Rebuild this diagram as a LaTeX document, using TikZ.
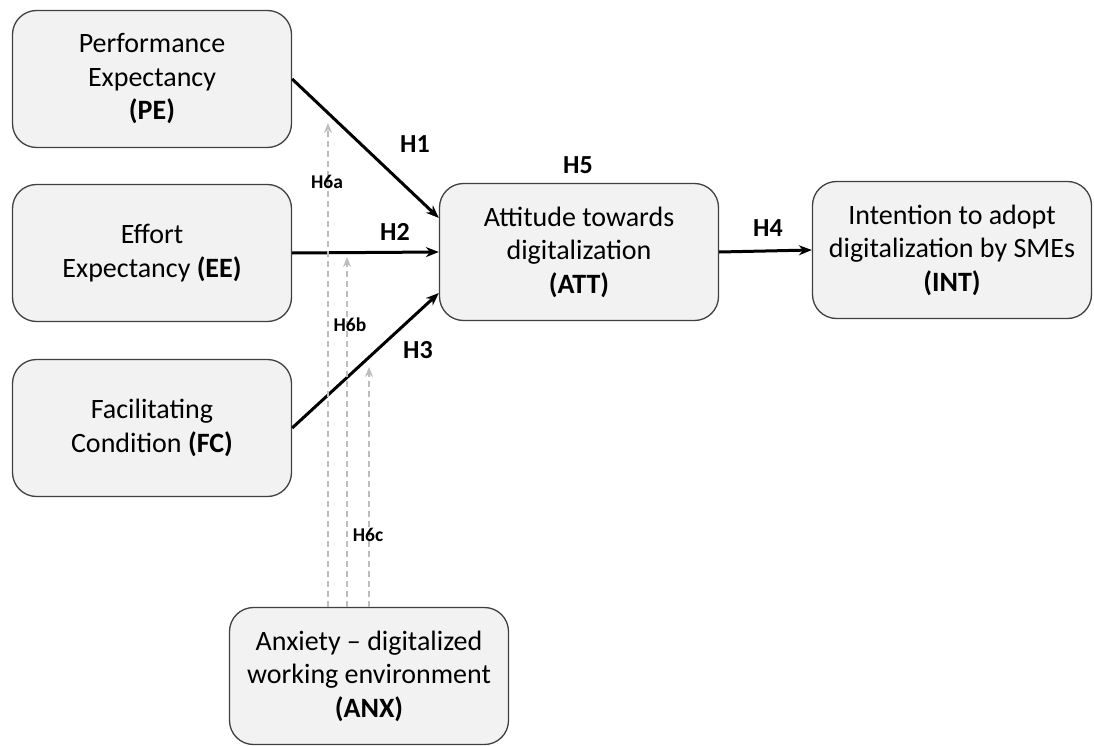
\documentclass[tikz,border=0pt]{standalone}
\usepackage{fontspec}
\setmainfont{Carlito}
\usetikzlibrary{arrows.meta}
\definecolor{boxfill}{HTML}{F2F2F2}
\definecolor{boxline}{HTML}{404040}
\definecolor{modgray}{HTML}{BDBDBD}

\begin{document}
\begin{tikzpicture}[x=1pt,y=-1pt,
    construct/.style={draw=boxline,fill=boxfill,line width=1.3pt,rounded corners=24pt,
      minimum width=279pt,minimum height=137pt,inner sep=0pt,align=center,
      font=\fontsize{28}{33.5}\selectfont},
    hyp/.style={line width=3pt,-{Stealth[length=13pt,width=10pt]}},
    modarrow/.style={draw=modgray,line width=1.7pt,dash pattern=on 6pt off 4pt,
      -{Stealth[length=10pt,width=8pt,fill=modgray]}},
    hlabel/.style={font=\bfseries\fontsize{26}{26}\selectfont},
    mlabel/.style={font=\bfseries\fontsize{19.5}{19.5}\selectfont}]
  \useasboundingbox (0,0) rectangle (1094,746);
  % constructs
  \node[construct](PE) at (152,79){Performance\\Expectancy\\\textbf{(PE)}};
  \node[construct](EE) at (152,253){Effort\\Expectancy \textbf{(EE)}};
  \node[construct](FC) at (152,428){Facilitating\\Condition \textbf{(FC)}};
  \node[construct](ATT) at (579,252){Attitude towards\\digitalization\\\textbf{(ATT)}};
  \node[construct](INT) at (952,250){Intention to adopt\\digitalization by SMEs\\\textbf{(INT)}};
  \node[construct](ANX) at (369,676){Anxiety -- digitalized\\working environment\\\textbf{(ANX)}};
  % direct paths
  \draw[hyp] (PE.east) -- ([yshift=34pt]ATT.west);
  \draw[hyp] (EE.east) -- (ATT.west);
  \draw[hyp] (FC.east) -- ([yshift=-41pt]ATT.west);
  \draw[hyp] (ATT.east) -- (INT.west);
  % moderation by anxiety
  \coordinate (h6atip) at (328,123);
  \coordinate (h6btip) at (347,257);
  \coordinate (h6ctip) at (369,367);
  \draw[modarrow] (ANX.north -| h6atip) -- (h6atip);
  \draw[modarrow] (ANX.north -| h6btip) -- (h6btip);
  \draw[modarrow] (ANX.north -| h6ctip) -- (h6ctip);
  % labels
  \node[hlabel](H1) at (415,144){H1};
  \node[hlabel](H2) at (395,232){H2};
  \node[hlabel](H3) at (418,350){H3};
  \node[hlabel](H5) at (578,165){H5};
  \node[hlabel](H4) at (768,228){H4};
  \node[mlabel](H6a) at (327,182){H6a};
  \node[mlabel](H6b) at (350,325){H6b};
  \node[mlabel](H6c) at (368,535){H6c};
\end{tikzpicture}
\end{document}
